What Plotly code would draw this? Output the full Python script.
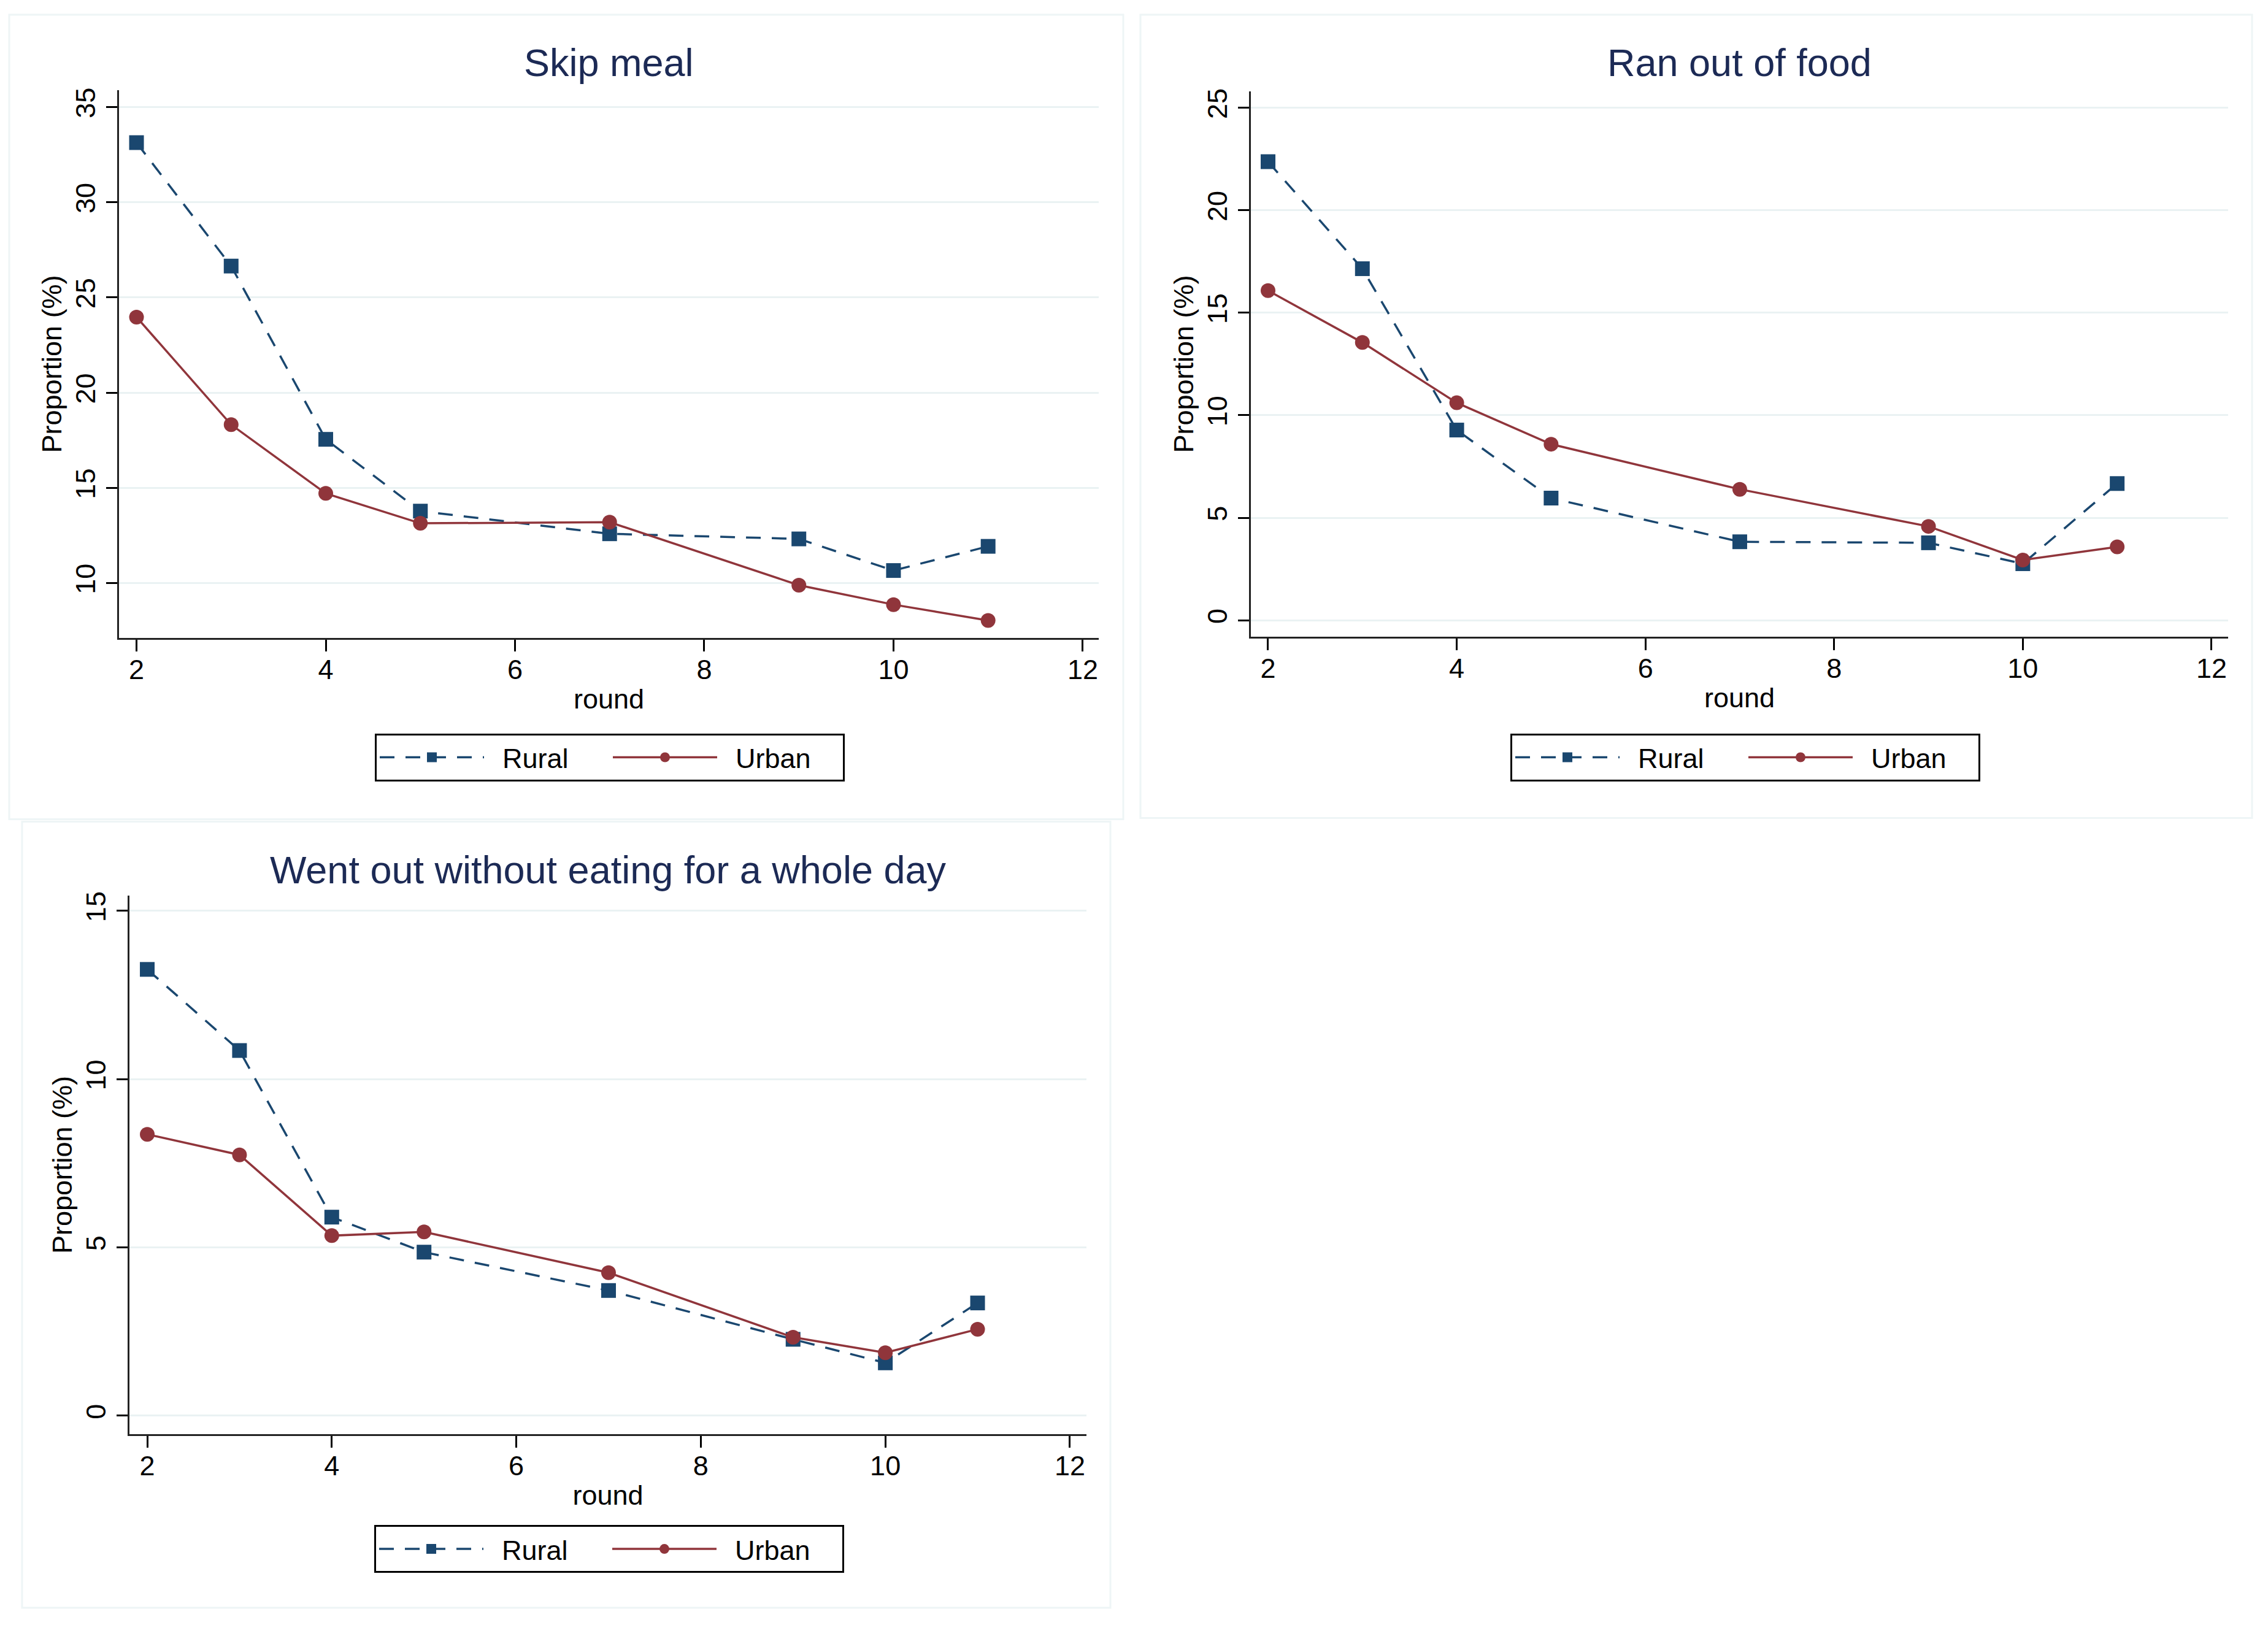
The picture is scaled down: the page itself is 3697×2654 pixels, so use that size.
import plotly.graph_objects as go

rounds = [2, 3, 4, 5, 7, 9, 10, 11]

skip_rural = [33.13, 26.65, 17.55, 13.78, 12.59, 12.32, 10.66, 11.93]
skip_urban = [23.97, 18.32, 14.71, 13.14, 13.20, 9.89, 8.87, 8.04]

ranout_rural = [22.37, 17.15, 9.28, 5.96, 3.83, 3.78, 2.76, 6.67]
ranout_urban = [16.08, 13.55, 10.61, 8.59, 6.39, 4.58, 2.94, 3.58]

wholeday_rural = [13.26, 10.85, 5.90, 4.86, 3.72, 2.27, 1.57, 3.35]
wholeday_urban = [8.36, 7.75, 5.35, 5.46, 4.25, 2.33, 1.87, 2.57]

series_names = ["Rural", "Urban"]
titles = ["Skip meal", "Ran out of food", "Went out without eating for a whole day"]
x_ticks = [2, 4, 6, 8, 10, 12]
y_ticks = [[10, 15, 20, 25, 30, 35], [0, 5, 10, 15, 20, 25], [0, 5, 10, 15]]

W, H = 3697, 2654
NAVY = "#1a476f"
MAROON = "#90353b"
TITLE_C = "#1c2a55"
GRID = "#eaf2f3"
FONT = "Liberation Sans, Arial, Helvetica, sans-serif"

def px_x(p):
    return p / W

def px_y(p):
    return 1 - p / H

# plot areas in pixel coordinates (left, right, top, bottom)
areas = [(194, 1791, 140, 1036), (2039, 3632, 142, 1034), (211, 1771, 1457, 2337)]
x_ranges = [[1.815, 12.169], [1.818, 12.176], [1.807, 12.18]]
y_ranges = [[7.11, 35.9], [-0.81, 25.81], [-0.545, 15.45]]
title_y = [95, 95, 1415]
legend_pos = [(994, 1231), (2845, 1231), (993, 2525)]
panel_boxes = [(15, 17, 1831, 1332), (1859, 17, 3671, 1330), (36, 1336, 1810, 2621)]

data = [(skip_rural, skip_urban), (ranout_rural, ranout_urban), (wholeday_rural, wholeday_urban)]

fig = go.Figure()
legend_names = ["legend", "legend2", "legend3"]

for i, (rural, urban) in enumerate(data):
    xa = "x" if i == 0 else f"x{i+1}"
    ya = "y" if i == 0 else f"y{i+1}"
    fig.add_trace(go.Scatter(
        x=rounds, y=rural, name="  " + series_names[0], mode="lines+markers",
        xaxis=xa, yaxis=ya, legend=legend_names[i],
        line=dict(color=NAVY, width=3.5, dash="24px,18px"),
        marker=dict(symbol="square", size=24, color=NAVY),
    ))
    fig.add_trace(go.Scatter(
        x=rounds, y=urban, name="  " + series_names[1], mode="lines+markers",
        xaxis=xa, yaxis=ya, legend=legend_names[i],
        line=dict(color=MAROON, width=3.5),
        marker=dict(symbol="circle", size=24, color=MAROON),
    ))

layout = dict(
    width=W, height=H,
    margin=dict(l=0, r=0, t=0, b=0),
    paper_bgcolor="white", plot_bgcolor="white",
    font=dict(family=FONT, size=45, color="black"),
    showlegend=True,
    annotations=[], shapes=[],
)

for i in range(3):
    l, r, t, b = areas[i]
    sx = "" if i == 0 else str(i + 1)
    layout[f"xaxis{sx}"] = dict(
        domain=[px_x(l), px_x(r)], range=x_ranges[i],
        anchor=f"y{sx}", tickvals=x_ticks, ticks="outside", ticklen=19,
        tickwidth=3, tickcolor="black", showline=True, linecolor="#222222",
        linewidth=3, showgrid=False, zeroline=False, ticklabelstandoff=-9,
        tickfont=dict(size=45, family=FONT, color="black"),
        title=dict(text="round", font=dict(size=45, family=FONT, color="black"), standoff=8),
    )
    layout[f"yaxis{sx}"] = dict(
        domain=[px_y(b), px_y(t)], range=y_ranges[i],
        anchor=f"x{sx}", tickvals=y_ticks[i], ticks="outside", ticklen=18,
        tickwidth=3, tickcolor="black", showline=True, linecolor="#222222",
        linewidth=3, showgrid=True, gridcolor=GRID, gridwidth=3, zeroline=False,
        tickangle=-90,
        tickfont=dict(size=45, family=FONT, color="black"),
        title=dict(text="Proportion (%)", font=dict(size=45, family=FONT, color="black"), standoff=0),
    )
    layout["annotations"].append(dict(
        text=titles[i], x=px_x((l + r) / 2), y=px_y(title_y[i]),
        xref="paper", yref="paper", xanchor="center", yanchor="middle",
        showarrow=False, font=dict(size=63, family=FONT, color=TITLE_C),
    ))
    bx0, by0, bx1, by1 = panel_boxes[i]
    layout["shapes"].append(dict(
        type="rect", xref="paper", yref="paper",
        x0=px_x(bx0), x1=px_x(bx1), y0=px_y(by1), y1=px_y(by0),
        line=dict(color="#eef5f6", width=3), fillcolor="rgba(0,0,0,0)", layer="below",
    ))
    lx, ly = legend_pos[i]
    layout[legend_names[i]] = dict(
        x=px_x(lx), y=px_y(ly), xanchor="center", yanchor="middle",
        orientation="h", bordercolor="black", borderwidth=3, bgcolor="white",
        font=dict(size=45, family=FONT, color="black"),
        itemwidth=170, entrywidth=195, entrywidthmode="pixels",
        tracegroupgap=0,
    )

fig.update_layout(**layout)
fig.write_html(
    "out.html",
    config={"displayModeBar": False},
    post_script="document.body.style.margin='0';document.body.style.overflow='hidden';",
)
